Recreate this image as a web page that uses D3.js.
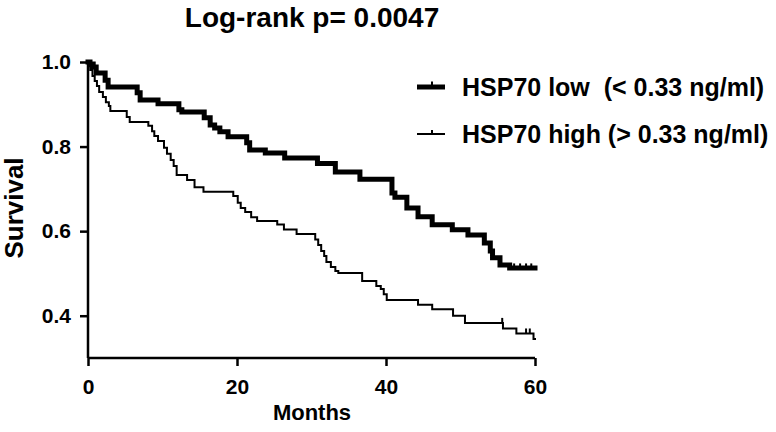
<!DOCTYPE html>
<html><head><meta charset="utf-8">
<script src="https://cdn.jsdelivr.net/npm/d3@7/dist/d3.min.js"></script>
<style>body{margin:0;background:#fff}svg{display:block}text{font-family:"Liberation Sans",Arial,sans-serif;font-weight:bold;fill:#000}</style>
</head><body><svg id="c" width="776" height="432"></svg>
<script>
const title = "Log-rank p= 0.0047";
const xLabel = "Months", yLabel = "Survival";
const xTicks = [0, 20, 40, 60];
const yTicks = [0.4, 0.6, 0.8, 1.0];
const seriesNames = ["HSP70 low\u00a0\u00a0(< 0.33 ng/ml)", "HSP70 high (> 0.33 ng/ml)"];
// step times (months) and survival after each step
const lowTimes = [0, 0.27, 0.7, 1.1, 2.3, 2.7, 6.6, 7.0, 9.4, 12.2, 12.6, 15.6, 16.4, 17.0, 17.7, 18.8, 21.3, 21.7, 23.8, 26.4, 30.8, 33.2, 36.5, 40.8, 41.2, 42.8, 44.3, 46.2, 48.9, 51.0, 53.2, 54.0, 54.3, 55.3, 56.6, 60];
const lowSurv  = [1.0, 0.995, 0.988, 0.974, 0.957, 0.941, 0.927, 0.910, 0.901, 0.887, 0.882, 0.868, 0.851, 0.844, 0.835, 0.823, 0.809, 0.792, 0.785, 0.773, 0.760, 0.740, 0.723, 0.690, 0.680, 0.655, 0.634, 0.615, 0.603, 0.591, 0.572, 0.553, 0.537, 0.520, 0.513, 0.513];
const lowCensor = [57.2, 58, 58.8, 59.5];
const highTimes = [0, 0.15, 0.3, 0.6, 0.9, 1.2, 1.5, 2.0, 2.4, 2.8, 3.0, 5.2, 5.6, 8.1, 8.6, 8.9, 9.4, 10.2, 10.6, 11.1, 11.5, 11.9, 13.3, 14.3, 15.5, 19.5, 20.1, 20.5, 21.1, 21.9, 22.7, 25.4, 26.3, 28.0, 30.5, 30.9, 31.3, 31.7, 32.0, 32.6, 33.2, 33.6, 36.8, 38.7, 39.3, 39.7, 40.1, 44.3, 46.2, 49.0, 50.6, 55.7, 57.5, 59.8, 60];
const highSurv  = [1.0, 0.99, 0.981, 0.967, 0.955, 0.943, 0.929, 0.917, 0.905, 0.896, 0.884, 0.870, 0.858, 0.849, 0.836, 0.825, 0.813, 0.797, 0.783, 0.768, 0.754, 0.733, 0.721, 0.704, 0.693, 0.683, 0.667, 0.655, 0.645, 0.633, 0.624, 0.616, 0.604, 0.593, 0.580, 0.567, 0.553, 0.541, 0.527, 0.515, 0.506, 0.501, 0.482, 0.470, 0.463, 0.451, 0.437, 0.426, 0.415, 0.400, 0.383, 0.370, 0.358, 0.345, 0.345];
const highCensor = [55.6, 58.8, 59.3];

const svg = d3.select("#c");
const x = d3.scaleLinear().domain([0, 60]).range([88, 535]);
const y = d3.scaleLinear().domain([0.3, 1.0]).range([358, 62]);

// axes
const xa = svg.append("g").attr("transform", "translate(0,358)")
  .call(d3.axisBottom(x).tickValues(xTicks).tickSize(8).tickPadding(6).tickFormat(d3.format("d")));
const ya = svg.append("g").attr("transform", "translate(88,0)")
  .call(d3.axisLeft(y).tickValues(yTicks).tickSize(8).tickPadding(9).tickFormat(d3.format(".1f")));
[xa, ya].forEach(a => {
  a.select(".domain").attr("stroke", "#000").attr("stroke-width", 2.5);
  a.selectAll(".tick line").attr("stroke", "#000").attr("stroke-width", 2.5);
  a.selectAll("text").style("font-size", "21px").attr("fill", "#000");
});
ya.select(".domain").attr("d", "M0,358V62");
xa.select(".domain").attr("d", "M88,0H535");
xa.selectAll(".tick text").attr("dy", "1.05em");

const line = d3.line().x(d => x(d[0])).y(d => y(d[1])).curve(d3.curveStepAfter);
function stepAt(times, surv, t) { let v = surv[0]; for (let i = 0; i < times.length; i++) if (times[i] <= t) v = surv[i]; return v; }

const series = [
  {times: lowTimes, surv: lowSurv, cens: lowCensor, w: 5, tick: 2},
  {times: highTimes, surv: highSurv, cens: highCensor, w: 2, tick: 4}
];
series.forEach(s => {
  const pts = s.times.map((t, i) => [t, s.surv[i]]);
  svg.append("path").attr("d", line(pts)).attr("fill", "none").attr("stroke", "#000")
    .attr("stroke-width", s.w).attr("stroke-linejoin", "miter").attr("stroke-linecap", "square");
  svg.append("g").selectAll("line").data(s.cens).join("line")
    .attr("x1", d => x(d)).attr("x2", d => x(d))
    .attr("y1", d => y(stepAt(s.times, s.surv, d)))
    .attr("y2", d => y(stepAt(s.times, s.surv, d)) - s.w / 2 - s.tick)
    .attr("stroke", "#000").attr("stroke-width", 2);
});

// legend
const legY = [87, 134];
series.forEach((s, i) => {
  svg.append("line").attr("x1", 417).attr("x2", 445).attr("y1", legY[i]).attr("y2", legY[i])
    .attr("stroke", "#000").attr("stroke-width", s.w);
  svg.append("line").attr("x1", 432).attr("x2", 432).attr("y1", legY[i]).attr("y2", legY[i] - s.w / 2 - 3)
    .attr("stroke", "#000").attr("stroke-width", 2);
  svg.append("text").attr("x", 462).attr("y", legY[i] + 9).style("font-size", "25px").text(seriesNames[i]);
});

svg.append("text").attr("x", 312).attr("y", 27).attr("text-anchor", "middle").style("font-size", "28px").text(title);
svg.append("text").attr("x", 312).attr("y", 420).attr("text-anchor", "middle").style("font-size", "22px").text(xLabel);
svg.append("text").attr("transform", "translate(23,208) rotate(-90)").attr("text-anchor", "middle").style("font-size", "26px").text(yLabel);
</script></body></html>
